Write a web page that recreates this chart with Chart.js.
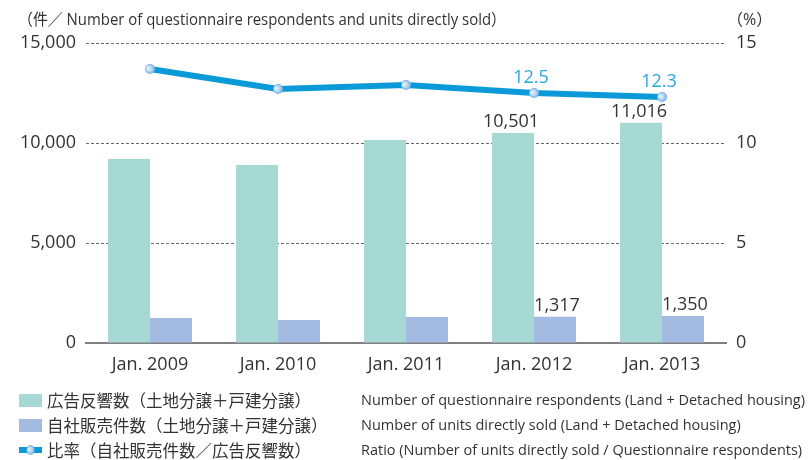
<!DOCTYPE html>
<html>
<head>
<meta charset="utf-8">
<script src="https://cdn.jsdelivr.net/npm/chart.js@4.4.1/dist/chart.umd.min.js"></script>
<style>
  html, body { margin: 0; padding: 0; background: #fff; }
  #wrap { width: 811px; height: 460px; }
</style>
</head>
<body>
<div id="wrap"><canvas id="chart" width="811" height="460"></canvas></div>
<script>
// Data
const categories = ['Jan. 2009', 'Jan. 2010', 'Jan. 2011', 'Jan. 2012', 'Jan. 2013'];
const respondents = [9200, 8900, 10150, 10501, 11016];
const unitsSold = [1250, 1150, 1300, 1317, 1350];
const ratio = [13.7, 12.7, 12.9, 12.5, 12.3];
const labelledIdx = [3, 4]; // only the last two years carry value labels

const leftTicks = [0, 5000, 10000, 15000];
const rightTicks = [0, 5, 10, 15];

const legendJa = [
  '広告反響数（土地分譲＋戸建分譲）',
  '自社販売件数（土地分譲＋戸建分譲）',
  '比率（自社販売件数／広告反響数）'
];
const legendEn = [
  'Number of questionnaire respondents (Land + Detached housing)',
  'Number of units directly sold (Land + Detached housing)',
  'Ratio (Number of units directly sold / Questionnaire respondents)'
];
const titleLeft = '（件／ Number of questionnaire respondents and units directly sold）';
const titleRight = '（%）';

const TEAL = '#a6d8d4';
const BLUE = '#a3bbe0';
const LINE = '#0a9ad8';
const TEXT = '#333333';
const FONT = '"Open Sans", "Noto Sans CJK JP", sans-serif';
const FONT_JA = '"Noto Sans CJK JP", sans-serif';

// small shaded ball used for the line markers
function makeBall(r) {
  const c = document.createElement('canvas');
  c.width = c.height = r * 2 + 2;
  const g = c.getContext('2d');
  const cx = r + 1, cy = r + 1;
  const grad = g.createRadialGradient(cx - r * 0.5, cy - r * 0.2, 0, cx, cy, r);
  grad.addColorStop(0, '#f4f8fd');
  grad.addColorStop(0.6, '#b5d4f0');
  grad.addColorStop(1, '#6aaee6');
  g.fillStyle = grad;
  g.beginPath();
  g.arc(cx, cy, r, 0, Math.PI * 2);
  g.fill();
  return c;
}
const ball = makeBall(5);

const fmt = v => v.toLocaleString('en-US');

// value labels above the bars and line points
const valueLabels = {
  id: 'valueLabels',
  afterDatasetsDraw(chart) {
    const ctx = chart.ctx;
    ctx.save();
    ctx.textAlign = 'center';
    ctx.textBaseline = 'alphabetic';
    ctx.font = '18px ' + FONT;
    const lineMeta = chart.getDatasetMeta(0);
    const tealMeta = chart.getDatasetMeta(1);
    const blueMeta = chart.getDatasetMeta(2);
    labelledIdx.forEach(i => {
      const t = tealMeta.data[i], b = blueMeta.data[i], p = lineMeta.data[i];
      ctx.fillStyle = TEXT;
      ctx.fillText(fmt(respondents[i]), t.x - 2, t.y - 6);
      ctx.fillText(fmt(unitsSold[i]), b.x + 2, b.y - 6);
      ctx.fillStyle = '#2aa7e0';
      ctx.fillText(ratio[i].toFixed(1), p.x - 3, p.y - 10);
    });
    ctx.restore();
  }
};

// titles and bottom legend
const decorations = {
  id: 'decorations',
  afterDraw(chart) {
    const ctx = chart.ctx;
    ctx.save();
    ctx.fillStyle = TEXT;
    ctx.textBaseline = 'middle';
    ctx.font = '16px ' + FONT;
    ctx.textAlign = 'left';
    ctx.fillText(titleLeft, 18, 20, 488);
    ctx.fillText(titleRight, 727, 20);

    const rows = [400, 425, 450];
    // swatches
    ctx.fillStyle = TEAL;
    ctx.fillRect(19, rows[0] - 6, 23, 13);
    ctx.fillStyle = BLUE;
    ctx.fillRect(19, rows[1] - 6, 23, 13);
    ctx.fillStyle = LINE;
    ctx.fillRect(19, rows[2] - 3, 9, 6);
    ctx.fillRect(33, rows[2] - 3, 9, 6);
    ctx.drawImage(ball, 30.5 - ball.width * 0.4, rows[2] - ball.height / 2, ball.width * 0.8, ball.height);

    ctx.fillStyle = TEXT;
    ctx.font = '16.5px ' + FONT_JA;
    legendJa.forEach((s, i) => ctx.fillText(s, 47, rows[i] + 1));

    // English legend is set in a condensed face: squeeze horizontally
    ctx.font = '15px ' + FONT;
    const target = 444;
    const sx = target / ctx.measureText(legendEn[0]).width;
    legendEn.forEach((s, i) => {
      ctx.save();
      ctx.translate(361, rows[i] + 1);
      ctx.scale(sx, 1);
      ctx.fillText(s, 0, 0);
      ctx.restore();
    });
    ctx.restore();
  }
};

new Chart(document.getElementById('chart'), {
  data: {
    labels: categories,
    datasets: [
      {
        type: 'line',
        label: legendJa[2],
        data: ratio,
        yAxisID: 'y1',
        borderColor: LINE,
        borderWidth: 6,
        pointStyle: ball,
        pointRadius: 5,
        tension: 0,
        order: 0
      },
      {
        type: 'bar',
        label: legendJa[0],
        data: respondents,
        yAxisID: 'y',
        backgroundColor: TEAL,
        categoryPercentage: 84 / 128,
        barPercentage: 1,
        order: 1
      },
      {
        type: 'bar',
        label: legendJa[1],
        data: unitsSold,
        yAxisID: 'y',
        backgroundColor: BLUE,
        categoryPercentage: 84 / 128,
        barPercentage: 1,
        order: 1
      }
    ]
  },
  options: {
    responsive: false,
    animation: false,
    layout: { padding: { top: 43, left: 0, right: 0, bottom: 0 } },
    plugins: {
      legend: { display: false },
      tooltip: { enabled: false }
    },
    scales: {
      x: {
        grid: { display: false },
        border: { display: true, color: '#808080', width: 2 },
        ticks: { color: TEXT, font: { family: FONT, size: 18 }, padding: 3 },
        afterFit: s => { s.height = 117; }
      },
      y: {
        position: 'left',
        min: 0,
        max: 15000,
        afterBuildTicks: s => { s.ticks = leftTicks.map(v => ({ value: v })); },
        grid: {
          drawTicks: false,
          color: c => (c.tick && c.tick.value === 0 ? 'rgba(0,0,0,0)' : '#6a6a6a'),
          lineWidth: 1
        },
        border: { display: false, dash: [3, 2] },
        ticks: {
          color: TEXT,
          font: { family: FONT, size: 18 },
          padding: 10,
          callback: v => fmt(v)
        },
        afterFit: s => { s.width = 86; }
      },
      y1: {
        position: 'right',
        min: 0,
        max: 15,
        afterBuildTicks: s => { s.ticks = rightTicks.map(v => ({ value: v })); },
        grid: { display: false, drawTicks: false },
        border: { display: false },
        ticks: {
          color: TEXT,
          font: { family: FONT, size: 18 },
          padding: 10
        },
        afterFit: s => { s.width = 85; }
      }
    }
  },
  plugins: [valueLabels, decorations]
});
</script>
</body>
</html>
